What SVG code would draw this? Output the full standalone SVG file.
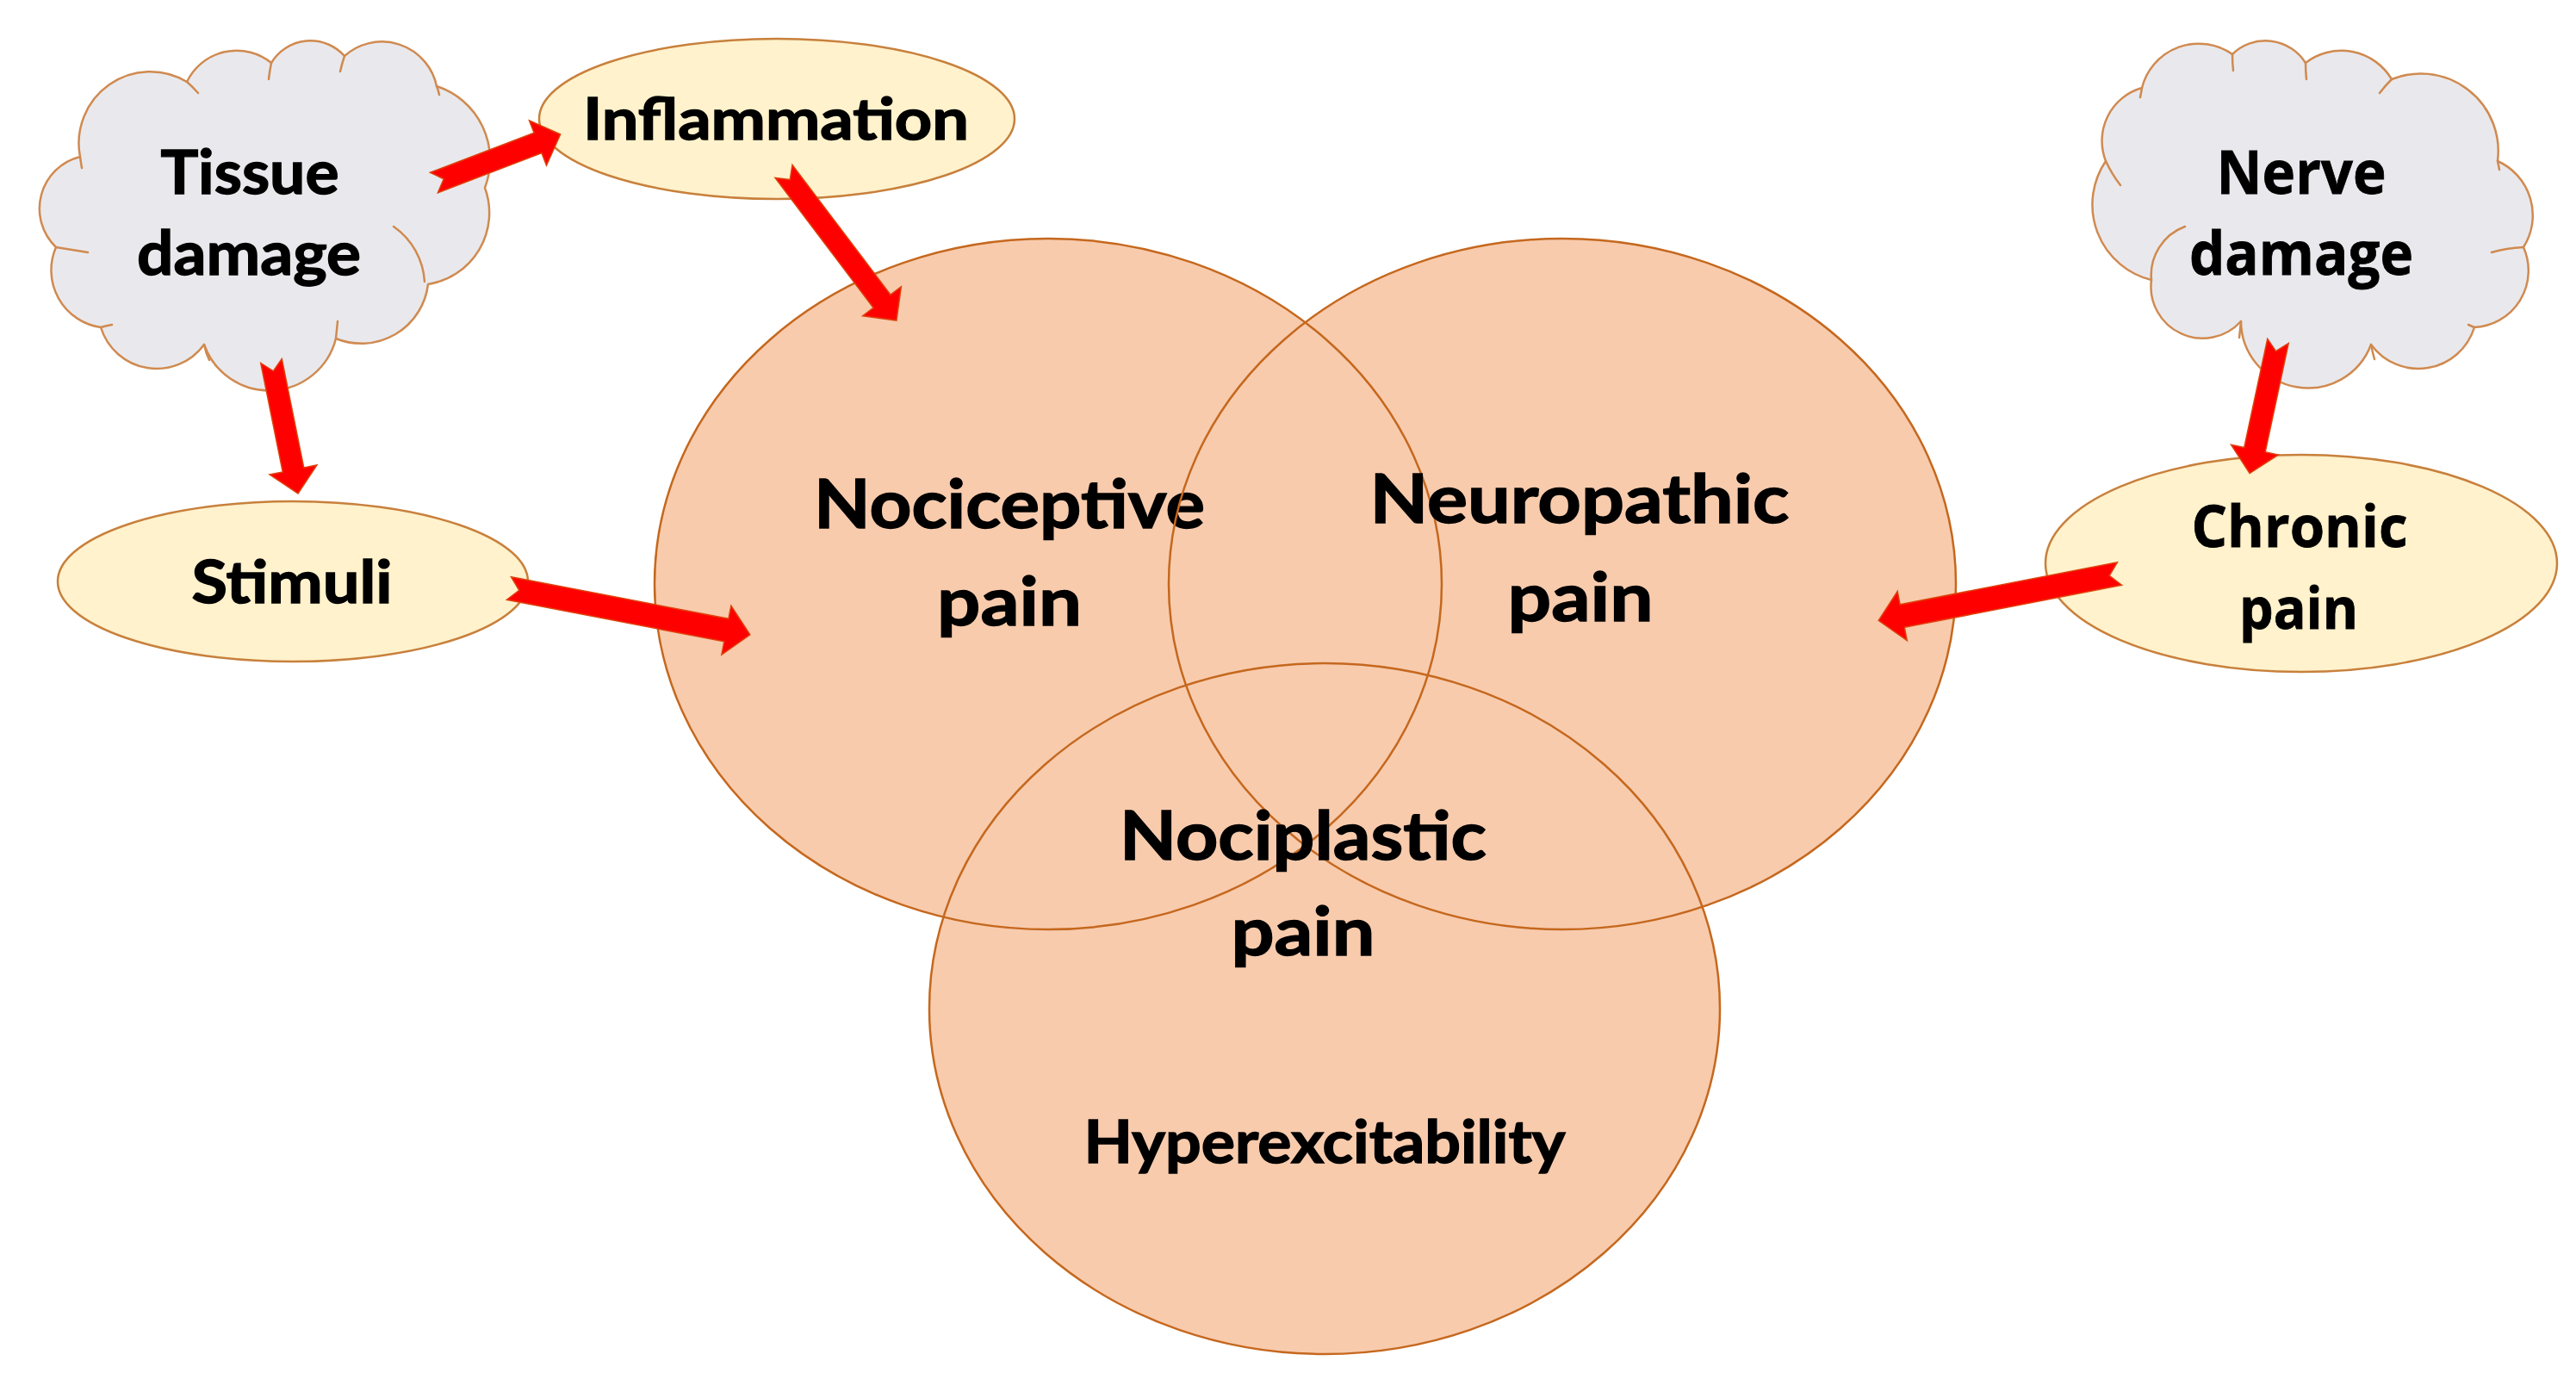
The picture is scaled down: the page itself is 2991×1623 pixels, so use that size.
<svg xmlns="http://www.w3.org/2000/svg" xmlns:xlink="http://www.w3.org/1999/xlink" width="2991" height="1623" viewBox="0 0 2991 1623">
<style>
.venn{fill:#F8CBAD;stroke:none}
.vline{fill:none;stroke:#C5681E;stroke-width:2.5}
.oval{fill:#FFF2CC;stroke:#C8803C;stroke-width:2.5}
.cloud{fill:#E9E9ED;stroke:#D08A50;stroke-width:2.5;stroke-linejoin:round}
.inner{fill:none;stroke:#D08A50;stroke-width:2.5;stroke-linecap:round}
.arrow{fill:#FF0000;stroke:#E0400C;stroke-width:1.5;stroke-linejoin:miter}
.lbl{font-family:Lato,"Liberation Sans",sans-serif;font-weight:700;fill:#000;stroke:#000;stroke-width:1.4;text-anchor:middle}
.lbl2{font-family:"Open Sans","Liberation Sans",sans-serif;font-weight:700;fill:#000;stroke:#000;stroke-width:0.8;text-anchor:middle}
</style>
<defs>
<ellipse id="e-noci" cx="1217" cy="678" rx="457" ry="401"/>
<ellipse id="e-neuro" cx="1814" cy="678" rx="457" ry="401"/>
<ellipse id="e-plast" cx="1538" cy="1171" rx="459" ry="401"/>
<polygon id="a157" points="0,-12.5 129,-12.5 129,-28 157,0 129,28 129,12.5 0,12.5 12,0"/>
<polygon id="a217" points="0,-12.5 189,-12.5 189,-28 217,0 189,28 189,12.5 0,12.5 12,0"/>
<polygon id="a285" points="0,-13.5 257,-13.5 257,-29 285,0 257,29 257,13.5 0,13.5 12,0"/>
</defs>
<rect width="2991" height="1623" fill="#FFFFFF"/>

<g id="tissue-damage">
<path class="cloud" d="M93,182 A83,83 0 0 1 217,95 A64,64 0 0 1 315,73 A53,53 0 0 1 400,65 A65,65 0 0 1 507,100 A90,90 0 0 1 563,218 A84,84 0 0 1 497,330 A78,78 0 0 1 390,393 A80,80 0 0 1 237,400 A68,68 0 0 1 117,380 A67,67 0 0 1 65,287 A62,62 0 0 1 93,182 Z"/>
<path class="inner" d="M457,263 A84,84 0 0 1 493,327 M102,293 Q83,290 65,287 M93,182 Q94,189 95,195 M217,95 Q224,101 230,108 M315,73 Q313,83 312,92 M400,65 Q397,74 395,83 M507,100 Q509,105 510,110 M392,373 L390,393 M237,400 Q239,410 243,418 M117,380 Q124,378 130,377"/>
<text class="lbl" x="290" y="225" font-size="70" textLength="207" lengthAdjust="spacingAndGlyphs">Tissue</text>
<text class="lbl" x="289" y="319" font-size="70" textLength="260" lengthAdjust="spacingAndGlyphs">damage</text>
</g>

<g id="inflammation">
<ellipse class="oval" cx="902" cy="138" rx="276" ry="93"/>
<text class="lbl" x="901" y="162" font-size="66" textLength="448" lengthAdjust="spacingAndGlyphs">Inflammation</text>
</g>

<g id="stimuli">
<ellipse class="oval" cx="340" cy="675" rx="273" ry="93"/>
<text class="lbl" x="339" y="700" font-size="68" textLength="233" lengthAdjust="spacingAndGlyphs">Stimuli</text>
</g>

<g id="nerve-damage">
<path class="cloud" d="M2487,102 A68,68 0 0 1 2592,63 A55,55 0 0 1 2677,73 A68,68 0 0 1 2777,92 A90,90 0 0 1 2900,187 A69,69 0 0 1 2930,287 A66,66 0 0 1 2873,380 A68,68 0 0 1 2753,400 A78,78 0 0 1 2602,373 A60,60 0 0 1 2498,325 A90,90 0 0 1 2445,187 A64,64 0 0 1 2487,102 Z"/>
<path class="inner" d="M2445,187 Q2452,202 2462,215 M2537,263 A60,60 0 0 0 2498,325 M2602,373 Q2601,383 2600,392 M2753,400 Q2755,410 2757,417 M2873,380 L2866,377 M2930,287 Q2910,288 2893,293 M2900,187 L2902,197 M2777,92 Q2769,100 2763,108 M2677,73 Q2677,83 2678,92 M2592,63 Q2592,73 2593,82 M2487,102 Q2486,108 2485,113"/>
<text class="lbl2" x="2672" y="225" font-size="70" textLength="197" lengthAdjust="spacingAndGlyphs">Nerve</text>
<text class="lbl2" x="2672" y="319" font-size="70" textLength="260" lengthAdjust="spacingAndGlyphs">damage</text>
</g>

<g id="chronic-pain">
<ellipse class="oval" cx="2672" cy="654" rx="297" ry="126"/>
<text class="lbl2" x="2670" y="635" font-size="66" textLength="251" lengthAdjust="spacingAndGlyphs">Chronic</text>
<text class="lbl2" x="2669" y="730" font-size="66" textLength="138" lengthAdjust="spacingAndGlyphs">pain</text>
</g>

<g id="venn-fills">
<use xlink:href="#e-noci" class="venn"/>
<use xlink:href="#e-neuro" class="venn"/>
<use xlink:href="#e-plast" class="venn"/>
</g>

<g id="nociceptive-pain">
<use xlink:href="#e-noci" class="vline"/>
<text class="lbl" x="1172" y="613" font-size="78" textLength="454" lengthAdjust="spacingAndGlyphs">Nociceptive</text>
<text class="lbl" x="1172" y="726" font-size="78" textLength="168" lengthAdjust="spacingAndGlyphs">pain</text>
</g>

<g id="neuropathic-pain">
<use xlink:href="#e-neuro" class="vline"/>
<text class="lbl" x="1834" y="607" font-size="78" textLength="487" lengthAdjust="spacingAndGlyphs">Neuropathic</text>
<text class="lbl" x="1835" y="721" font-size="78" textLength="169" lengthAdjust="spacingAndGlyphs">pain</text>
</g>

<g id="nociplastic-pain">
<use xlink:href="#e-plast" class="vline"/>
<text class="lbl" x="1513" y="998" font-size="78" textLength="426" lengthAdjust="spacingAndGlyphs">Nociplastic</text>
<text class="lbl" x="1513" y="1109" font-size="78" textLength="167" lengthAdjust="spacingAndGlyphs">pain</text>
<text class="lbl" x="1538" y="1350" font-size="68" textLength="559" lengthAdjust="spacingAndGlyphs">Hyperexcitability</text>
</g>

<g id="connectors">
<use xlink:href="#a157" class="arrow" transform="translate(504,212) rotate(-20.9)"/>
<use xlink:href="#a217" class="arrow" transform="translate(910,199) rotate(52.9)"/>
<use xlink:href="#a157" class="arrow" transform="translate(315,419) rotate(78.6)"/>
<use xlink:href="#a285" class="arrow" transform="translate(591,683) rotate(10.9)"/>
<use xlink:href="#a157" class="arrow" transform="translate(2645,396) rotate(102.1)"/>
<use xlink:href="#a285" class="arrow" transform="translate(2461,666) rotate(169)"/>
</g>
</svg>
